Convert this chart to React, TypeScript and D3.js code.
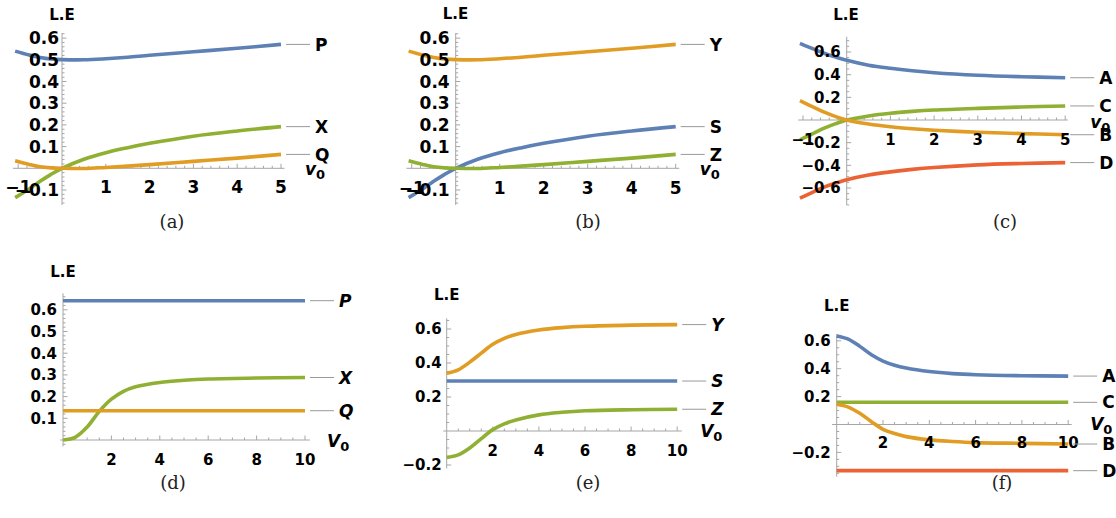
import React from "react";
import * as d3 from "d3";

// ---------- data ----------
const xTop = [-1.07, -0.75, -0.5, -0.25, 0, 0.5, 1, 1.5, 2, 3, 4, 5];
const aP = [0.54, 0.522, 0.511, 0.504, 0.501, 0.5, 0.505, 0.512, 0.521, 0.537, 0.553, 0.571];
const aX = [-0.135, -0.095, -0.06, -0.028, 0, 0.042, 0.072, 0.095, 0.115, 0.148, 0.172, 0.192];
const aQ = [0.035, 0.018, 0.007, 0.002, 0, -0.001, 0.004, 0.01, 0.017, 0.032, 0.047, 0.064];
const bY = [0.54, 0.522, 0.511, 0.504, 0.501, 0.5, 0.505, 0.512, 0.521, 0.537, 0.553, 0.571];
const bS = [-0.135, -0.095, -0.06, -0.028, 0, 0.042, 0.072, 0.095, 0.115, 0.148, 0.172, 0.192];
const bZ = [0.035, 0.018, 0.007, 0.002, 0, -0.001, 0.004, 0.01, 0.017, 0.032, 0.047, 0.064];
const cA = [0.677, 0.625, 0.587, 0.555, 0.527, 0.484, 0.456, 0.434, 0.417, 0.395, 0.382, 0.373];
const cC = [-0.175, -0.115, -0.07, -0.032, 0, 0.036, 0.06, 0.076, 0.088, 0.103, 0.115, 0.124];
const cB = [0.17, 0.112, 0.067, 0.03, 0, -0.036, -0.06, -0.077, -0.09, -0.108, -0.12, -0.13];
const cD = [-0.69, -0.632, -0.59, -0.558, -0.528, -0.486, -0.458, -0.436, -0.419, -0.396, -0.384, -0.376];

const xBot = [0, 0.5, 1, 1.5, 2, 2.5, 3, 4, 5, 6, 8, 10];
const dP = [0.642, 0.642, 0.642, 0.642, 0.642, 0.642, 0.642, 0.642, 0.642, 0.642, 0.642, 0.642];
const dX = [0, 0.012, 0.06, 0.132, 0.188, 0.224, 0.245, 0.265, 0.275, 0.281, 0.286, 0.288];
const dQ = [0.135, 0.135, 0.135, 0.135, 0.135, 0.135, 0.135, 0.135, 0.135, 0.135, 0.135, 0.135];
const eY = [0.34, 0.36, 0.405, 0.458, 0.51, 0.545, 0.568, 0.594, 0.608, 0.616, 0.623, 0.626];
const eS = [0.294, 0.294, 0.294, 0.294, 0.294, 0.294, 0.294, 0.294, 0.294, 0.294, 0.294, 0.294];
const eZ = [-0.155, -0.14, -0.1, -0.045, 0.008, 0.042, 0.065, 0.095, 0.11, 0.119, 0.125, 0.128];
const fA = [0.635, 0.612, 0.56, 0.5, 0.455, 0.425, 0.405, 0.38, 0.365, 0.357, 0.35, 0.347];
const fC = [0.159, 0.159, 0.159, 0.159, 0.159, 0.159, 0.159, 0.159, 0.159, 0.159, 0.159, 0.159];
const fB = [0.145, 0.125, 0.08, 0.02, -0.035, -0.065, -0.087, -0.11, -0.122, -0.13, -0.135, -0.14];
const fD = [-0.331, -0.331, -0.331, -0.331, -0.331, -0.331, -0.331, -0.331, -0.331, -0.331, -0.331, -0.331];

const xTicksTop = [-1, 1, 2, 3, 4, 5];
const yTicksAB = [-0.1, 0.1, 0.2, 0.3, 0.4, 0.5, 0.6];
const yTicksC = [-0.6, -0.4, -0.2, 0.2, 0.4, 0.6];
const xTicksBot = [2, 4, 6, 8, 10];
const yTicksD = [0.1, 0.2, 0.3, 0.4, 0.5, 0.6];
const yTicksEF = [-0.2, 0.2, 0.4, 0.6];

const BLUE = "#5E81B5";
const ORANGE = "#E19C24";
const GREEN = "#8FB032";
const RED = "#EB6235";

const FONT = "'DejaVu Sans', sans-serif";
const AXIS = "#a6a6a6";

type Series = { name: string; color: string; xs: number[]; ys: number[] };
type PanelCfg = {
  x0: number; y0: number; kx: number; ky: number;
  xExt: [number, number]; yExt: [number, number];
  xMajor: number[]; xMinor: number; yMajor: number[]; yMinor: number;
  font: number; yGap: number; xLabDy: number;
  series: Series[]; italic: boolean;
  le: [number, number]; v: string; vdx: number; vdy: number;
  caption: string; cap: [number, number];
};

const panels: PanelCfg[] = [
  {
    x0: 62, y0: 168.3, kx: 43.8, ky: 217, xExt: [-1.12, 5.08], yExt: [-0.169, 0.623],
    xMajor: xTicksTop, xMinor: 0.2, yMajor: yTicksAB, yMinor: 0.02, font: 17, yGap: 3, xLabDy: 18.5,
    series: [
      { name: "P", color: BLUE, xs: xTop, ys: aP },
      { name: "X", color: GREEN, xs: xTop, ys: aX },
      { name: "Q", color: ORANGE, xs: xTop, ys: aQ },
    ],
    italic: false, le: [62, 15], v: "v", vdx: 24, vdy: 7, caption: "(a)", cap: [172, 222],
  },
  {
    x0: 455.7, y0: 168.3, kx: 44, ky: 217, xExt: [-1.12, 5.08], yExt: [-0.169, 0.623],
    xMajor: xTicksTop, xMinor: 0.2, yMajor: yTicksAB, yMinor: 0.02, font: 17, yGap: 6, xLabDy: 19.5,
    series: [
      { name: "Y", color: ORANGE, xs: xTop, ys: bY },
      { name: "S", color: BLUE, xs: xTop, ys: bS },
      { name: "Z", color: GREEN, xs: xTop, ys: bZ },
    ],
    italic: false, le: [455.5, 13.5], v: "v", vdx: 24, vdy: 7, caption: "(b)", cap: [588, 222],
  },
  {
    x0: 846.7, y0: 120, kx: 43.7, ky: 113.3, xExt: [-1.11, 5.06], yExt: [-0.75, 0.735],
    xMajor: xTicksTop, xMinor: 0.2, yMajor: yTicksC, yMinor: 0.05, font: 15, yGap: 6, xLabDy: 20,
    series: [
      { name: "A", color: BLUE, xs: xTop, ys: cA },
      { name: "C", color: GREEN, xs: xTop, ys: cC },
      { name: "B", color: ORANGE, xs: xTop, ys: cB },
      { name: "D", color: RED, xs: xTop, ys: cD },
    ],
    italic: false, le: [846, 15], v: "v", vdx: 25, vdy: 8, caption: "(c)", cap: [1005, 222],
  },
  {
    x0: 63, y0: 440, kx: 24.2, ky: 217, xExt: [-0.12, 10.2], yExt: [-0.03, 0.676],
    xMajor: xTicksBot, xMinor: 0.5, yMajor: yTicksD, yMinor: 0.02, font: 15, yGap: 6, xLabDy: 20,
    series: [
      { name: "P", color: BLUE, xs: xBot, ys: dP },
      { name: "X", color: GREEN, xs: xBot, ys: dX },
      { name: "Q", color: ORANGE, xs: xBot, ys: dQ },
    ],
    italic: true, le: [63, 272], v: "V", vdx: 22, vdy: 7, caption: "(d)", cap: [173, 483],
  },
  {
    x0: 446.7, y0: 431, kx: 23.05, ky: 170, xExt: [-0.15, 10.2], yExt: [-0.22, 0.663],
    xMajor: xTicksBot, xMinor: 0.5, yMajor: yTicksEF, yMinor: 0.05, font: 15, yGap: 5, xLabDy: 19.7,
    series: [
      { name: "Y", color: ORANGE, xs: xBot, ys: eY },
      { name: "S", color: BLUE, xs: xBot, ys: eS },
      { name: "Z", color: GREEN, xs: xBot, ys: eZ },
    ],
    italic: true, le: [446.7, 295], v: "V", vdx: 23, vdy: 6, caption: "(e)", cap: [588, 483],
  },
  {
    x0: 836.7, y0: 424.5, kx: 23.15, ky: 139.5, xExt: [-0.2, 10.15], yExt: [-0.374, 0.649],
    xMajor: xTicksBot, xMinor: 0.5, yMajor: yTicksEF, yMinor: 0.05, font: 15, yGap: 6, xLabDy: 18.2,
    series: [
      { name: "A", color: BLUE, xs: xBot, ys: fA },
      { name: "C", color: GREEN, xs: xBot, ys: fC },
      { name: "B", color: ORANGE, xs: xBot, ys: fB },
      { name: "D", color: RED, xs: xBot, ys: fD },
    ],
    italic: false, le: [836.7, 306], v: "V", vdx: 22, vdy: 5.5, caption: "(f)", cap: [1002, 483],
  },
];

function minorTicks(ext: [number, number], step: number, majors: number[]) {
  const out: number[] = [];
  const start = Math.ceil(ext[0] / step - 1e-9);
  const end = Math.floor(ext[1] / step + 1e-9);
  for (let i = start; i <= end; i++) {
    const v = i * step;
    if (Math.abs(v) < 1e-9) continue;
    if (majors.some((m) => Math.abs(m - v) < 1e-9)) continue;
    out.push(v);
  }
  return out;
}

const fmtY = d3.format(".1f");
const fmtX = d3.format("d");

function Panel({ p }: { p: PanelCfg }) {
  const x = d3.scaleLinear().domain([0, 1]).range([p.x0, p.x0 + p.kx]);
  const y = d3.scaleLinear().domain([0, 1]).range([p.y0, p.y0 - p.ky]);
  const line = d3
    .line<[number, number]>()
    .x((d) => x(d[0]))
    .y((d) => y(d[1]))
    .curve(d3.curveCatmullRom.alpha(0.5));
  const xMin = minorTicks(p.xExt, p.xMinor, p.xMajor);
  const yMin = minorTicks(p.yExt, p.yMinor, p.yMajor);
  const xEndVal = p.series[0].xs[p.series[0].xs.length - 1];
  const xEnd = x(xEndVal);
  return (
    <g>
      {/* axes */}
      <line x1={x(p.xExt[0])} x2={x(p.xExt[1])} y1={y(0)} y2={y(0)} stroke={AXIS} strokeWidth={1} />
      <line x1={x(0)} x2={x(0)} y1={y(p.yExt[0])} y2={y(p.yExt[1])} stroke={AXIS} strokeWidth={1} />
      {xMin.map((v, i) => (
        <line key={"xm" + i} x1={x(v)} x2={x(v)} y1={y(0)} y2={y(0) - 2.5} stroke={AXIS} strokeWidth={1} />
      ))}
      {p.xMajor.map((v, i) => (
        <line key={"xM" + i} x1={x(v)} x2={x(v)} y1={y(0)} y2={y(0) - 4.5} stroke={AXIS} strokeWidth={1} />
      ))}
      {yMin.map((v, i) => (
        <line key={"ym" + i} x1={x(0)} x2={x(0) + 2.5} y1={y(v)} y2={y(v)} stroke={AXIS} strokeWidth={1} />
      ))}
      {p.yMajor.map((v, i) => (
        <line key={"yM" + i} x1={x(0)} x2={x(0) + 4.5} y1={y(v)} y2={y(v)} stroke={AXIS} strokeWidth={1} />
      ))}
      {/* curves */}
      {p.series.map((s) => (
        <path
          key={s.name}
          d={line(s.xs.map((xv, i) => [xv, s.ys[i]]) as [number, number][]) || ""}
          fill="none"
          stroke={s.color}
          strokeWidth={3.6}
        />
      ))}
      {/* tick labels */}
      {p.yMajor.map((v, i) => (
        <text
          key={"yl" + i}
          x={x(0) - p.yGap}
          y={y(v)}
          dy="0.36em"
          textAnchor="end"
          fontFamily={FONT}
          fontWeight="bold"
          fontSize={p.font}
        >
          {fmtY(v)}
        </text>
      ))}
      {p.xMajor.map((v, i) => (
        <text
          key={"xl" + i}
          x={x(v)}
          y={y(0) + p.xLabDy}
          dy="0.36em"
          textAnchor="middle"
          fontFamily={FONT}
          fontWeight="bold"
          fontSize={p.font}
        >
          {fmtX(v)}
        </text>
      ))}
      {/* series labels */}
      {p.series.map((s) => {
        const yy = y(s.ys[s.ys.length - 1]);
        return (
          <g key={"lab" + s.name}>
            <line x1={xEnd + 5} x2={xEnd + 29} y1={yy} y2={yy} stroke="#999" strokeWidth={1} />
            <text
              x={xEnd + 34}
              y={yy}
              dy="0.36em"
              fontFamily={FONT}
              fontWeight="bold"
              fontStyle={p.italic ? "italic" : "normal"}
              fontSize={17}
            >
              {s.name}
            </text>
          </g>
        );
      })}
      {/* axis names */}
      <text x={p.le[0]} y={p.le[1]} dy="0.36em" textAnchor="middle" fontFamily={FONT} fontWeight="bold" fontSize={15}>
        L.E
      </text>
      <text x={xEnd + p.vdx} y={y(0) + p.vdy} fontFamily={FONT} fontWeight="bold" fontSize={17}>
        <tspan fontStyle="italic">{p.v}</tspan>
        <tspan fontSize={13} dy={4}>0</tspan>
      </text>
      <text
        x={p.cap[0]}
        y={p.cap[1]}
        dy="0.36em"
        textAnchor="middle"
        fontFamily="'DejaVu Serif', serif"
        fontSize={18}
        fill="#222"
      >
        {p.caption}
      </text>
    </g>
  );
}

export default function App() {
  return (
    <svg
      width={1116}
      height={518}
      viewBox="0 0 1116 518"
      style={{ position: "absolute", left: 0, top: 0, background: "#fff" }}
    >
      <rect x={0} y={0} width={1116} height={518} fill="#fff" />
      {panels.map((p, i) => (
        <Panel key={i} p={p} />
      ))}
    </svg>
  );
}
